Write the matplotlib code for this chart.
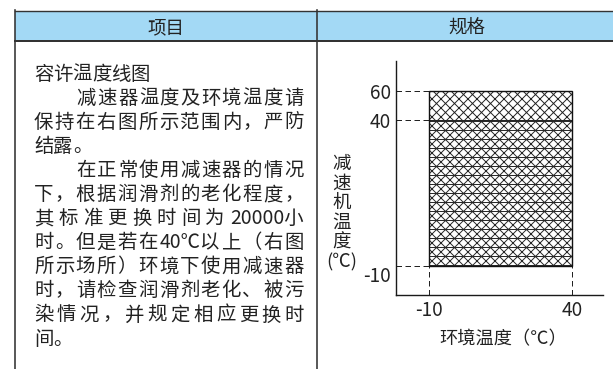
import matplotlib
matplotlib.use('Agg')
import matplotlib.pyplot as plt
import numpy as np
import re
from matplotlib.transforms import Affine2D
from matplotlib.lines import Line2D
from matplotlib.patches import Rectangle
from matplotlib.font_manager import FontProperties

plt.rcParams['font.family'] = ['Noto Sans CJK SC', 'DejaVu Sans']
plt.rcParams['axes.unicode_minus'] = False
plt.rcParams['hatch.linewidth'] = 0.65

# ---------------- data ----------------
header_labels = ['项目', '规格']
text_lines = [
    '容许温度线图',
    '减速器温度及环境温度请',
    '保持在右图所示范围内，严防',
    '结露。',
    '在正常使用减速器的情况',
    '下，根据润滑剂的老化程度，',
    '其标准更换时间为20000小',
    '时。但是若在40℃以上（右图',
    '所示场所）环境下使用减速器',
    '时，请检查润滑剂老化、被污',
    '染情况，并规定相应更换时',
    '间。',
]
line_indent = [False, True, False, False, True, False, False, False, False, False, False, False]
line_justify = [False, True, True, False, True, True, True, True, True, True, True, False]

ambient_range = [-10, 40]          # 环境温度
reducer_normal = [-10, 40]         # 减速机温度 (normal zone)
reducer_upper = [40, 60]           # 减速机温度 (upper zone)
x_ticks = [-10, 40]
y_ticks = [-10, 40, 60]
x_label = '环境温度（℃）'
y_label = '减\n速\n机\n温\n度\n(℃)'

# ---------------- figure ----------------
W, H, DPI = 613, 369, 108
fig = plt.figure(figsize=(W / DPI, H / DPI), dpi=DPI)
fig.patch.set_facecolor('white')
px = Affine2D().scale(1 / W, -1 / H).translate(0, 1) + fig.transFigure


def pt(p):
    return p * 72 / DPI


TEXT_C = '#222222'
LINE_C = '#333333'

# table header
fig.add_artist(Rectangle((15, 11), W - 15, 30, transform=px, facecolor='#a3d9f5',
                         edgecolor='none', zorder=0))
fig.add_artist(Line2D([15, W], [11, 11], transform=px, color=LINE_C, lw=pt(1.4)))
fig.add_artist(Line2D([15, W], [40.8, 40.8], transform=px, color=LINE_C, lw=pt(2.0)))
fig.add_artist(Line2D([15, 15], [10.3, H], transform=px, color=LINE_C, lw=pt(1.6)))
fig.add_artist(Line2D([317, 317], [10.3, H], transform=px, color=LINE_C, lw=pt(1.6)))

hdr_fs = pt(18.5)
fig.text(166, 33, header_labels[0], transform=px, ha='center', va='baseline',
         fontsize=hdr_fs, color=TEXT_C)
fig.text(467, 33, header_labels[1], transform=px, ha='center', va='baseline',
         fontsize=hdr_fs, color=TEXT_C)

# body text, justified like the original
body_fs = pt(19.4)
prop = FontProperties(family=['Noto Sans CJK SC'], size=body_fs)
renderer = fig.canvas.get_renderer()


def ink_w(s):
    w, h, d = renderer.get_text_width_height_descent(s, prop, ismath=False)
    return w


base_w = ink_w('国国')


def advance(tok):
    return ink_w('国' + tok + '国') - base_w


x_left, x_indent, x_right = 34.0, 76.5, 303.5
for i, (line, ind, just) in enumerate(zip(text_lines, line_indent, line_justify)):
    tokens = re.findall(r'[0-9A-Za-z℃]+.?|.', line)
    advs = [advance(t) for t in tokens]
    x0 = x_indent if ind else x_left
    if just and len(tokens) > 1:
        gap = (x_right - x0 - sum(advs)) / (len(tokens) - 1)
    else:
        gap = 0.0
    y = 79.5 + 24.1 * i
    x = x0
    for t, a in zip(tokens, advs):
        fig.text(x, y, t, transform=px, ha='left', va='baseline', fontsize=body_fs,
                 color=TEXT_C, fontproperties=prop)
        x += a + gap

# ---------------- chart ----------------
ax_l, ax_r, ax_t, ax_b = 395.7, 603.0, 61.0, 295.0
ax = fig.add_axes([ax_l / W, (H - ax_b) / H, (ax_r - ax_l) / W, (ax_b - ax_t) / H])
ax.set_facecolor('none')


def fwd(y):
    y = np.asarray(y, dtype=float)
    return np.where(y <= 40, y, 40 + (y - 40) * 0.5)


def inv(v):
    v = np.asarray(v, dtype=float)
    return np.where(v <= 40, v, 40 + (v - 40) * 2.0)


ax.set_yscale('function', functions=(fwd, inv))
ax.set_xlim(-21.8, 50.9)
ax.set_ylim(-19.8, 80.6)

cx = (ambient_range[0] + ambient_range[1]) / 2
bw = ambient_range[1] - ambient_range[0]
ax.bar(cx, reducer_upper[1] - reducer_upper[0], width=bw, bottom=reducer_upper[0],
       fill=False, hatch='xxxx', edgecolor='#222222', linewidth=0, zorder=2)
ax.bar(cx, reducer_normal[1] - reducer_normal[0], width=bw, bottom=reducer_normal[0],
       fill=False, hatch='xxxx--', edgecolor='#262626', linewidth=pt(1.0), zorder=2)
ax.bar(cx, reducer_upper[1] - reducer_normal[0], width=bw, bottom=reducer_normal[0],
       fill=False, edgecolor='#111111', linewidth=pt(1.4), zorder=3)

xmin = ax.get_xlim()[0]
ymin = ax.get_ylim()[0]
dash_kw = dict(colors='#222222', linestyles=(0, (5.5, 3.5)), linewidth=pt(1.0), zorder=1)
ax.hlines(y_ticks, xmin, ambient_range[0], **dash_kw)
ax.vlines(x_ticks, ymin, reducer_normal[0], **dash_kw)

for s in ['top', 'right']:
    ax.spines[s].set_visible(False)
for s in ['left', 'bottom']:
    ax.spines[s].set_linewidth(pt(1.4))
    ax.spines[s].set_color('#1a1a1a')

tick_fs = pt(19.0)
ax.set_xticks(x_ticks, labels=[str(v) for v in x_ticks])
ax.set_yticks(y_ticks, labels=[str(v) for v in y_ticks])
ax.yaxis.set_minor_locator(matplotlib.ticker.NullLocator())
ax.tick_params(axis='both', length=0, labelsize=tick_fs, colors=TEXT_C)
ax.tick_params(axis='y', pad=pt(4.5))
ax.tick_params(axis='x', pad=pt(5.5))
for lab in ax.get_yticklabels():
    if lab.get_text() == str(y_ticks[0]):
        lab.set_va('top')

ax.set_ylabel(y_label, rotation=0, ha='center', va='center', fontsize=pt(18.5),
              color=TEXT_C, linespacing=1.12)
ax.yaxis.set_label_coords((341.7 - ax_l) / (ax_r - ax_l), (ax_b - 213.0) / (ax_b - ax_t))
ax.set_xlabel(x_label, ha='center', va='center', fontsize=pt(18.2), color=TEXT_C)
ax.xaxis.set_label_coords((503.0 - ax_l) / (ax_r - ax_l), (ax_b - 339.0) / (ax_b - ax_t))

fig.savefig('out.png', dpi=DPI)
